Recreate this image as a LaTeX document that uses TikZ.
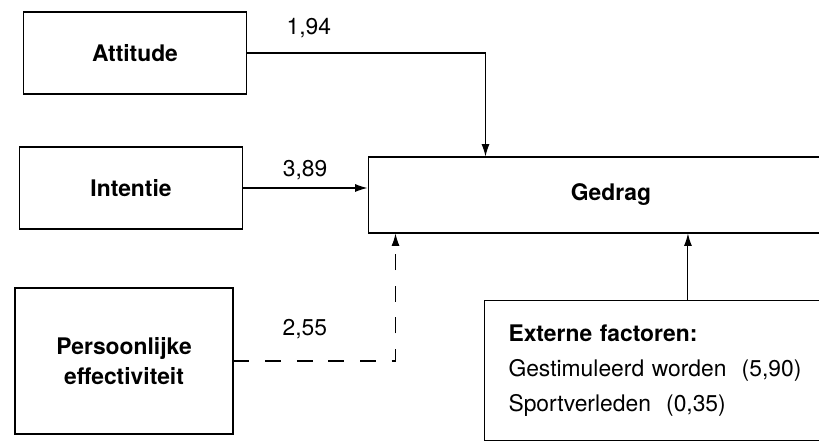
\documentclass[tikz,border=0pt]{standalone}
\usepackage{fontspec}
\setmainfont{TeX Gyre Heros}
\usetikzlibrary{arrows.meta}

\tikzset{
  factor/.style={draw, minimum width=4.45cm, minimum height=1.64cm, align=center, font=\bfseries},
  effect/.style={->},
  weak/.style={->, dash pattern=on 9pt off 9pt},
}

\begin{document}
\fontsize{13}{16}\selectfont
\begin{tikzpicture}[>={Latex[length=7pt,width=4.5pt]}, x=0.02cm, y=-0.02cm, line width=0.6pt]
    \useasboundingbox (0,0) rectangle (819,448);
    \clip (0,0) rectangle (819,448);
    % predictors
    \node[factor] (attitude) at (135,53) {Attitude};
    \node[factor] (intentie) at (131,188) {Intentie};
    \node[factor, minimum height=2.92cm, minimum width=4.36cm] (pers) at (124,361)
      {Persoonlijke\\[1pt]effectiviteit};
    % outcome (runs past the right edge)
    \node[draw, minimum width=9.72cm, minimum height=1.52cm, font=\bfseries] (gedrag) at (611,195) {Gedrag};
    % external factors box
    \node[draw, anchor=north west, text width=8cm, inner xsep=0.48cm,
          minimum height=2.8cm, align=left] (extern) at (484,300)
      {\textbf{Externe factoren:}\\[4pt]
       Gestimuleerd worden~~(5,90)\\[4pt]
       Sportverleden~~(0,35)};
    % connectors
    \draw[effect] (attitude.east) -| ([xshift=2.36cm]gedrag.north west)
      node[pos=0.13, above=4pt] {1,94};
    \draw[effect] (intentie.east) -- (gedrag.west |- intentie.east)
      node[midway, above] {3,89};
    \draw[weak] (pers.east) -| ([xshift=0.56cm]gedrag.south west)
      node[pos=0.22, above=8pt] {2,55};
    \draw[effect] ([xshift=4.08cm]extern.north west) -- ([xshift=4.08cm]extern.north west |- gedrag.south);
\end{tikzpicture}
\end{document}
